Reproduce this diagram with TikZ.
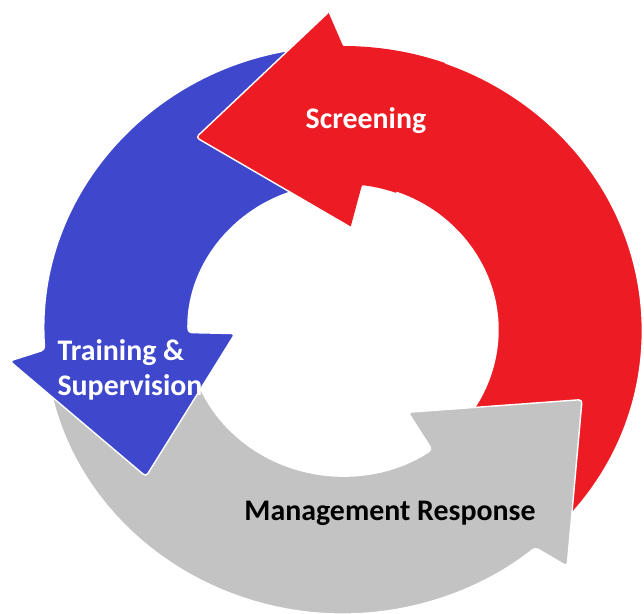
\documentclass[tikz,border=0pt]{standalone}
\usepackage{fontspec}
\setmainfont{Carlito}
\usetikzlibrary{calc}

\definecolor{cycred}{RGB}{237,28,36}
\definecolor{cycblue}{RGB}{63,72,204}
\definecolor{cycgray}{RGB}{195,195,195}

\tikzstyle{steplabel} = [font=\bfseries\fontsize{17}{20}\selectfont, text=white, align=left]
\tikzstyle{ringpart} = [draw=white, line width=0.8pt, line join=round, rounded corners=2pt]

% #1 style, #2 colour, #3 tail angle, #4/#5 band end (outer/inner), #6/#7 head corners (outer/inner), #8 tip
\newcommand{\ringarrow}[8]{%
  \path[#1, fill=#2]
    ($(C)+(#3:299 and 284)$) arc[start angle=#3, end angle=#4, x radius=299, y radius=284]
    -- ($(C)+(#6:335 and 318)$) -- ($(C)+(#8:250 and 238)$) -- ($(C)+(#7:108 and 103)$)
    -- ($(C)+(#5:155 and 146)$) arc[start angle=#5, end angle=#3, x radius=155, y radius=146]
    -- cycle;}

\begin{document}
\begin{tikzpicture}[x=0.02cm, y=0.02cm]

        \useasboundingbox[fill=white] (0, 0) rectangle (644, 613);
        \coordinate (C) at (343, 283);

        \ringarrow{ringpart}{cycred}{-45}{90}{83}{92.5}{86}{126}
        \ringarrow{ringpart}{cycgray}{190}{310}{305}{312}{307}{343}
        \ringarrow{ringpart}{cycblue}{96}{184}{181}{185.6}{182}{218}

        % red head lies over the blue tail
        \ringarrow{}{cycred}{70}{90}{83}{92.5}{86}{126}
        \draw[ringpart] ($(C)+(92.5:335 and 318)$) -- ($(C)+(126:250 and 238)$) -- ($(C)+(86:108 and 103)$);

        \node[steplabel] (Screening) at (366, 492) {Screening};
        \node[steplabel] (Training) at (130, 243) {Training \&\\Supervision};
        \node[steplabel, text=black] (Management) at (390, 100) {Management Response};

\end{tikzpicture}
\end{document}
